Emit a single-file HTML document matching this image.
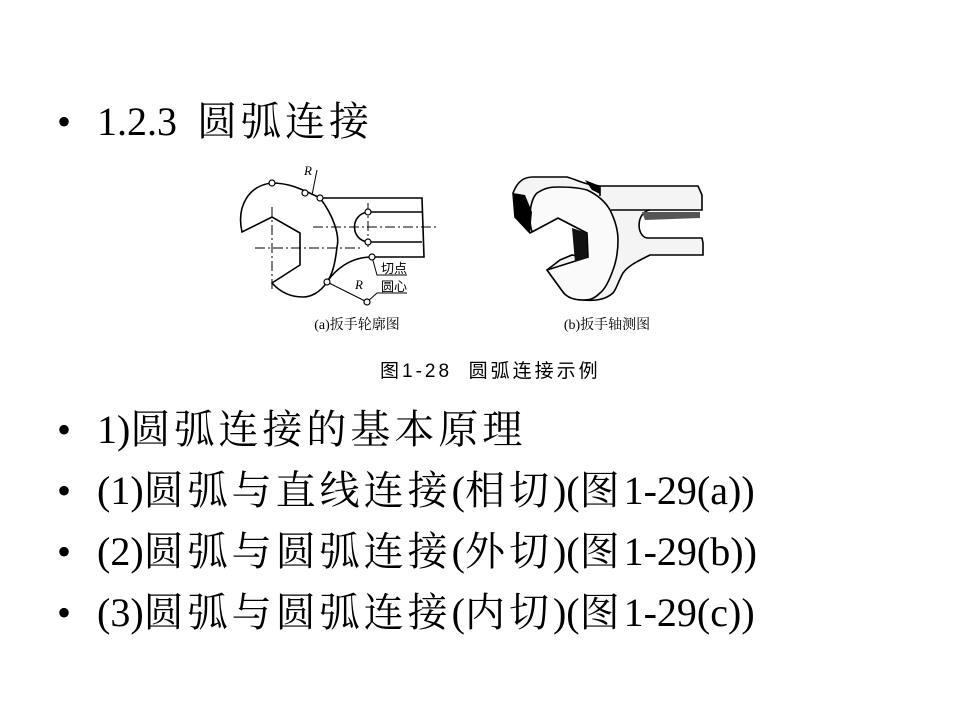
<!DOCTYPE html>
<html><head><meta charset="utf-8"><style>
html,body{margin:0;padding:0;background:#fff;}
body{width:960px;height:720px;position:relative;overflow:hidden;font-family:"Liberation Serif","Noto Serif CJK SC",serif;color:#000;}
.l{position:absolute;left:0;font-size:40px;line-height:48px;white-space:nowrap;}
.b{position:absolute;left:57px;top:0;}
.t{position:absolute;left:97px;top:0;}
.c{letter-spacing:4px;}
.cap{position:absolute;left:380px;top:360px;font-family:"Liberation Sans","Noto Sans CJK SC",sans-serif;font-size:19px;letter-spacing:3px;line-height:24px;white-space:nowrap;}
svg{position:absolute;left:0;top:0;}
</style></head><body>
<div class="l" style="top:98px"><span class="b">•</span><span class="t">1.2.3&nbsp; <span class="c">圆弧连接</span></span></div>
<div class="l" style="top:406px"><span class="b">•</span><span class="t">1)<span class="c">圆弧连接的基本原理</span></span></div>
<div class="l" style="top:467px"><span class="b">•</span><span class="t">(1)<span class="c">圆弧与直线连接</span>(<span class="c">相切</span>)(<span class="c">图</span>1-29(a))</span></div>
<div class="l" style="top:528px"><span class="b">•</span><span class="t">(2)<span class="c">圆弧与圆弧连接</span>(<span class="c">外切</span>)(<span class="c">图</span>1-29(b))</span></div>
<div class="l" style="top:589px"><span class="b">•</span><span class="t">(3)<span class="c">圆弧与圆弧连接</span>(<span class="c">内切</span>)(<span class="c">图</span>1-29(c))</span></div>
<div class="cap">图1-28&nbsp; 圆弧连接示例</div>
<svg width="960" height="720" viewBox="0 0 960 720">
<g fill="none" stroke="#000" stroke-width="1.6">
<path d="M242,232 C236,205 250,185 272,183 C288,183 300,188 320,198 C333,215 340,235 337,247 C335,265 332,275 327,282 C320,293 310,297 303,297 C290,297 280,292 272,283 L300,265 L300,233 L272,217 Z"/>
<path d="M320,198 L422,198 L424,257 L372,257 C350,257 335,270 327,282"/>
<path d="M368,212 L422,212 M368,242 L422,242 M368,212 C350,214 350,240 368,242"/>
</g>
<g fill="none" stroke="#000" stroke-width="1" stroke-dasharray="10,3,2,3">
<path d="M313,227 L437,227 M255,248 L360,248 M272,207 L272,290 M368,203 L368,247"/>
</g>
<g fill="none" stroke="#000" stroke-width="1">
<path d="M317,170 L312,195 M327,282 L367,302 M372,257 L377,275 L407,275 M367,302 L377,293 L407,293"/>
</g>
<g fill="#fff" stroke="#000" stroke-width="1.2">
<circle cx="272" cy="183" r="3"/><circle cx="305" cy="193" r="3"/><circle cx="320" cy="198" r="3"/>
<circle cx="368" cy="212" r="3"/><circle cx="368" cy="242" r="3"/><circle cx="372" cy="257" r="3"/>
<circle cx="327" cy="282" r="3"/><circle cx="367" cy="302" r="3"/>
</g>
<g font-family="Liberation Serif" font-style="italic" font-size="13"><text x="304" y="175">R</text><text x="355" y="289">R</text></g>
<g font-family="Noto Sans CJK SC,sans-serif" font-size="13"><text x="381" y="273">切点</text><text x="381" y="291">圆心</text></g>
<g font-family="Liberation Serif,Noto Serif CJK SC,serif" font-size="14" text-anchor="middle"><text x="357" y="329">(a)扳手轮廓图</text><text x="607" y="329">(b)扳手轴测图</text></g>
<g stroke="#000" stroke-width="1.6" fill="#f4f4f4">
<path d="M513,193 C518,180 525,177 533,177 L567,177 C578,180 582,184 600,186 L698,186 L702,195 L702,210 L650,210 C636,212 636,236 647,238 L702,238 L703,243 L703,255 L650,255 C636,262 628,266 623,273 C618,282 616,290 613,293 C605,300 595,301 583,300 C573,298 565,296 563,292 L547,270 L560,260 L572,255 L587,258 L587,233 L558,218 L530,233 L515,217 Z"/>
<path d="M532,232 C528,218 530,200 537,193 C545,188 550,187 558,187 C570,187 580,188 587,190 C600,196 606,203 610,210 C616,222 618,232 618,240 C618,252 616,262 613,270 C608,284 604,290 600,293 C593,300 588,300 583,300 C572,300 566,296 563,292 L547,270 L588,257 L587,233 L558,218 Z" fill="#fafafa"/>
<path d="M600,186 L600,196 M611,210 L650,210"/>
</g>
<path d="M513,193 L515,217 L530,233 L532,212 L525,195 Z" fill="#000"/>
<path d="M572,228 L587,233 L587,258 L575,262 Z" fill="#111"/>
<path d="M585,180 L600,186 L600,194 L592,190 Z" fill="#000"/>
<path d="M642,212 L700,212 L700,218 L645,220 Z" fill="#555"/>
</svg>
</body></html>
